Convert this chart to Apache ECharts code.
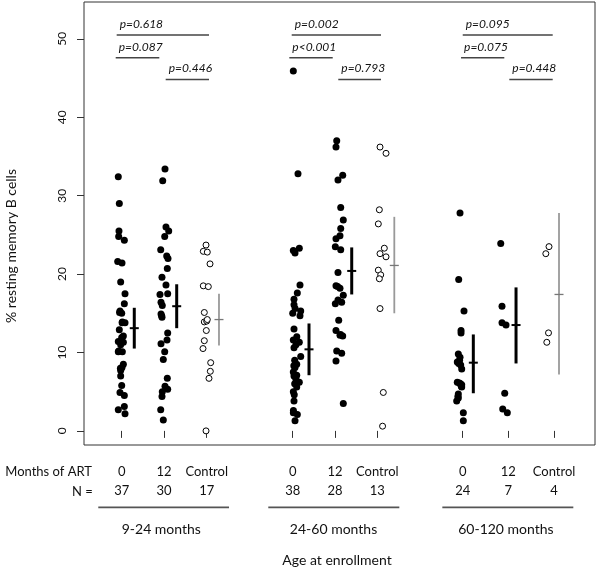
<!DOCTYPE html>
<html><head><meta charset="utf-8">
<script src="https://cdn.jsdelivr.net/npm/echarts@6/dist/echarts.min.js"></script>
<style>html,body{margin:0;padding:0;background:#fff}#c{width:600px;height:570px}</style>
</head><body><div id="c"></div>
<script>
// ---- data ----
const artLabels = ['0','12','Control','0','12','Control','0','12','Control'];
const nCounts = [37,30,17,38,28,13,24,7,4];
const tickPos = [1, 1.995, 3.0, 5.024, 6.019, 7.014, 9.024, 10.096, 11.172];
const ageGroups = ['9-24 months','24-60 months','60-120 months'];
const ageGroupCenters = [1.932, 5.984, 10.04];
const ageGroupSpans = [[0.449,3.525],[4.449,7.532],[8.544,11.626]];
const yTicks = [0,10,20,30,40,50];

// [x position (with jitter), % resting memory B cells]
const age1_m0 = [[0.920,32.4],[0.944,29.0],[0.936,25.5],[0.929,24.8],[1.062,24.3],[0.906,21.6],[1.007,21.4],[0.976,19.0],[1.078,17.5],[1.062,16.2],[0.960,15.3],[1.000,15.0],[1.015,13.9],[1.078,13.8],[0.944,12.9],[1.039,12.1],[1.000,11.9],[0.920,11.4],[1.039,11.3],[0.976,11.0],[0.920,10.1],[1.015,10.1],[1.039,8.5],[1.007,8.1],[0.976,7.7],[0.976,7.0],[1.000,5.8],[0.960,4.9],[1.062,4.5],[0.920,2.7],[1.062,3.1],[1.078,2.2],[0.93,10.2],[1.01,13.8],[0.99,11.5],[0.97,8.0],[0.95,15.1]];
const age1_m12 = [[2.019,33.4],[1.965,31.9],[2.042,26.0],[2.106,25.5],[2.012,24.8],[1.918,23.1],[2.059,22.3],[2.089,22.0],[2.073,20.7],[1.948,19.6],[2.042,18.6],[1.901,17.4],[2.082,17.5],[1.925,16.4],[1.955,16.0],[1.925,14.9],[1.948,14.5],[2.082,12.5],[2.066,11.6],[1.925,11.1],[2.012,10.1],[1.979,9.1],[2.073,6.7],[2.019,5.7],[2.082,5.3],[1.955,5.0],[1.948,4.4],[1.918,2.7],[1.979,1.4],[1.94,14.7]];
const age1_ctrl = [[2.984,23.7],[2.920,22.9],[3.014,22.8],[3.078,21.3],[2.920,18.5],[3.038,18.4],[2.944,15.1],[2.944,13.9],[3.000,14.0],[3.014,14.2],[2.991,12.8],[2.944,11.5],[2.913,10.5],[3.094,8.7],[3.085,7.6],[3.054,6.7],[2.984,0.0]];
const age2_m0 = [[5.038,45.9],[5.148,32.8],[5.038,23.0],[5.179,23.3],[5.078,22.7],[5.195,18.6],[5.132,17.6],[5.054,16.8],[5.054,16.1],[5.024,15.0],[5.212,15.3],[5.195,14.7],[5.054,13.0],[5.038,11.6],[5.179,11.3],[5.054,10.6],[5.212,9.5],[5.118,8.5],[5.078,8.1],[5.038,7.5],[5.118,7.1],[5.054,7.0],[5.179,6.2],[5.118,5.6],[5.038,5.0],[5.054,3.8],[5.038,2.3],[5.132,2.1],[5.078,1.3],[5.08,15.6],[5.10,11.0],[5.07,9.0],[5.05,8.3],[5.10,6.6],[5.07,6.0],[5.06,4.6],[5.12,12.0],[5.04,2.6]];
const age2_m12 = [[6.059,37.0],[6.042,36.2],[6.200,32.6],[6.089,32.0],[6.153,28.5],[6.214,26.9],[6.153,25.8],[6.136,24.9],[6.042,24.5],[6.026,23.5],[6.153,23.1],[6.089,20.2],[6.042,18.5],[6.136,18.2],[6.214,17.3],[6.089,16.7],[6.026,16.2],[6.176,16.4],[6.106,14.1],[6.042,12.8],[6.136,12.2],[6.200,12.1],[6.059,10.2],[6.176,9.9],[6.042,8.9],[6.214,3.5],[6.08,18.4],[6.15,12.3]];
const age2_ctrl = [[7.078,36.2],[7.219,35.4],[7.062,28.2],[7.038,26.4],[7.179,23.3],[7.078,22.6],[7.219,22.2],[7.038,20.5],[7.094,19.9],[7.062,19.4],[7.078,15.6],[7.155,4.9],[7.138,0.6]];
const age3_m0 = [[8.960,27.8],[8.929,19.3],[9.054,15.3],[8.984,12.8],[8.984,12.5],[8.920,9.8],[8.960,9.4],[8.896,8.8],[8.976,8.4],[9.000,7.9],[8.896,6.2],[8.944,6.1],[9.000,5.9],[9.000,5.6],[8.920,4.7],[8.920,4.2],[8.882,3.8],[9.038,2.3],[9.038,1.3],[8.95,9.0],[8.97,6.0],[8.93,8.6],[8.99,5.7],[8.91,4.4]];
const age3_m12 = [[9.918,23.9],[9.948,15.9],[9.948,13.8],[10.042,13.5],[10.012,4.8],[9.965,2.8],[10.073,2.3]];
const age3_ctrl = [[11.054,23.5],[10.979,22.6],[11.042,12.5],[11.002,11.3]];

// [x, median, lower quartile, upper quartile, isControl]
const summaryBars = [[1.296,13.1,10.5,15.7,0],[2.294,15.9,13.1,18.7,0],[3.289,14.2,10.9,17.5,1],
                     [5.407,10.4,7.1,13.7,0],[6.412,20.4,17.4,23.4,0],[7.414,21.1,15.0,27.3,1],
                     [9.273,8.7,4.8,12.3,0],[10.278,13.5,8.6,18.3,0],[11.289,17.4,7.2,27.8,1]];

// [x start, x end, y]
const pLines = [[0.882,3.054,50.5],[0.859,1.885,47.6],[2.035,3.054,44.8],
                [5.000,7.101,50.5],[4.944,5.965,47.6],[6.096,7.101,44.8],
                [9.024,11.141,50.5],[8.984,10.002,47.6],[10.120,11.141,44.8]];
const pTexts = ['p=0.618','p=0.087','p=0.446','p=0.002','p<0.001','p=0.793','p=0.095','p=0.075','p=0.448'];

const FONT = 'Lato, "Open Sans", sans-serif';
const TXT = '#111';
const groups = [age1_m0, age1_m12, age1_ctrl, age2_m0, age2_m12, age2_ctrl, age3_m0, age3_m12, age3_ctrl];

const chart = echarts.init(document.getElementById('c'), null, {renderer: 'canvas'});

const scatterSeries = groups.map((g, i) => {
  const ctrl = artLabels[i] === 'Control';
  return {
    type: 'scatter', data: g, symbol: 'circle',
    symbolSize: ctrl ? 6 : 7,
    itemStyle: ctrl ? {color: '#fff', borderColor: '#000', borderWidth: 1, opacity: 1} : {color: '#000', opacity: 1},
    z: 3, silent: true
  };
});

const option = {
  animation: false,
  backgroundColor: '#fff',
  grid: {left: 84, right: 5, top: 2, bottom: 125, show: true, borderColor: '#333', borderWidth: 1},
  xAxis: {
    type: 'value', min: 0.113, max: 12.136,
    axisLine: {show: false}, splitLine: {show: false},
    axisTick: {show: true, customValues: tickPos, length: 7, lineStyle: {color: '#333', width: 1}},
    axisLabel: {
      customValues: tickPos, margin: 17, fontSize: 13, lineHeight: 19.5, color: TXT, fontFamily: FONT,
      formatter: (v) => {
        let k = 0, d = 1e9;
        tickPos.forEach((t, j) => { if (Math.abs(t - v) < d) { d = Math.abs(t - v); k = j; } });
        return artLabels[k] + '\n' + nCounts[k];
      }
    }
  },
  yAxis: {
    type: 'value', min: -1.8, max: 54.7,
    axisLine: {show: false}, splitLine: {show: false},
    axisTick: {show: true, customValues: yTicks, length: 7, lineStyle: {color: '#333', width: 1}},
    axisLabel: {customValues: yTicks, rotate: 90, margin: 16, fontSize: 12, color: TXT, fontFamily: FONT}
  },
  series: [
    ...scatterSeries,
    {
      type: 'custom', data: summaryBars, z: 4, silent: true,
      renderItem: (params, api) => {
        const x = api.value(0);
        const m = api.coord([x, api.value(1)]);
        const lo = api.coord([x, api.value(2)]);
        const hi = api.coord([x, api.value(3)]);
        const ctrl = api.value(4) === 1;
        return {type: 'group', children: [
          {type: 'line', shape: {x1: m[0], y1: hi[1], x2: m[0], y2: lo[1]},
           style: {stroke: ctrl ? '#999' : '#000', lineWidth: ctrl ? 1.8 : 3}},
          {type: 'line', shape: {x1: m[0] - 4.5, y1: m[1], x2: m[0] + 4.5, y2: m[1]},
           style: {stroke: ctrl ? '#777' : '#000', lineWidth: ctrl ? 1.3 : 2}}
        ]};
      }
    },
    {
      type: 'custom', data: pLines, z: 4, silent: true,
      renderItem: (params, api) => {
        const a = api.coord([api.value(0), api.value(2)]);
        const b = api.coord([api.value(1), api.value(2)]);
        return {type: 'group', children: [
          {type: 'line', shape: {x1: a[0], y1: a[1], x2: b[0], y2: b[1]}, style: {stroke: '#444', lineWidth: 1.5}},
          {type: 'text', x: a[0] + 3, y: a[1] - 11,
           style: {text: pTexts[params.dataIndex], fontSize: 12, fontStyle: 'italic', fontFamily: FONT,
                   fill: TXT, textAlign: 'left', textVerticalAlign: 'middle'}}
        ]};
      }
    }
  ]
};
chart.setOption(option);

// bottom annotations positioned through the x scale
const px = (u) => chart.convertToPixel({gridIndex: 0}, [u, 0])[0];
const graphics = [
  {type: 'text', x: 11, y: 246, rotation: Math.PI / 2,
   style: {text: '% resting memory B cells', fontSize: 14, fontFamily: FONT, fill: TXT, textAlign: 'center', textVerticalAlign: 'middle'}},
  {type: 'text', x: 92, y: 472, style: {text: 'Months of ART', fontSize: 13, fontFamily: FONT, fill: TXT, textAlign: 'right', textVerticalAlign: 'middle'}},
  {type: 'text', x: 92.7, y: 491.7, style: {text: 'N =', fontSize: 13, fontFamily: FONT, fill: TXT, textAlign: 'right', textVerticalAlign: 'middle'}},
  {type: 'text', x: 337, y: 560.5, style: {text: 'Age at enrollment', fontSize: 14, fontFamily: FONT, fill: TXT, textAlign: 'center', textVerticalAlign: 'middle'}}
];
ageGroups.forEach((g, i) => {
  graphics.push({type: 'line', shape: {x1: px(ageGroupSpans[i][0]), y1: 507.3, x2: px(ageGroupSpans[i][1]), y2: 507.3},
                 style: {stroke: '#555', lineWidth: 1.8}});
  graphics.push({type: 'text', x: px(ageGroupCenters[i]), y: 529,
                 style: {text: g, fontSize: 14, fontFamily: FONT, fill: TXT, textAlign: 'center', textVerticalAlign: 'middle'}});
});
chart.setOption({graphic: graphics});
</script>
</body></html>
